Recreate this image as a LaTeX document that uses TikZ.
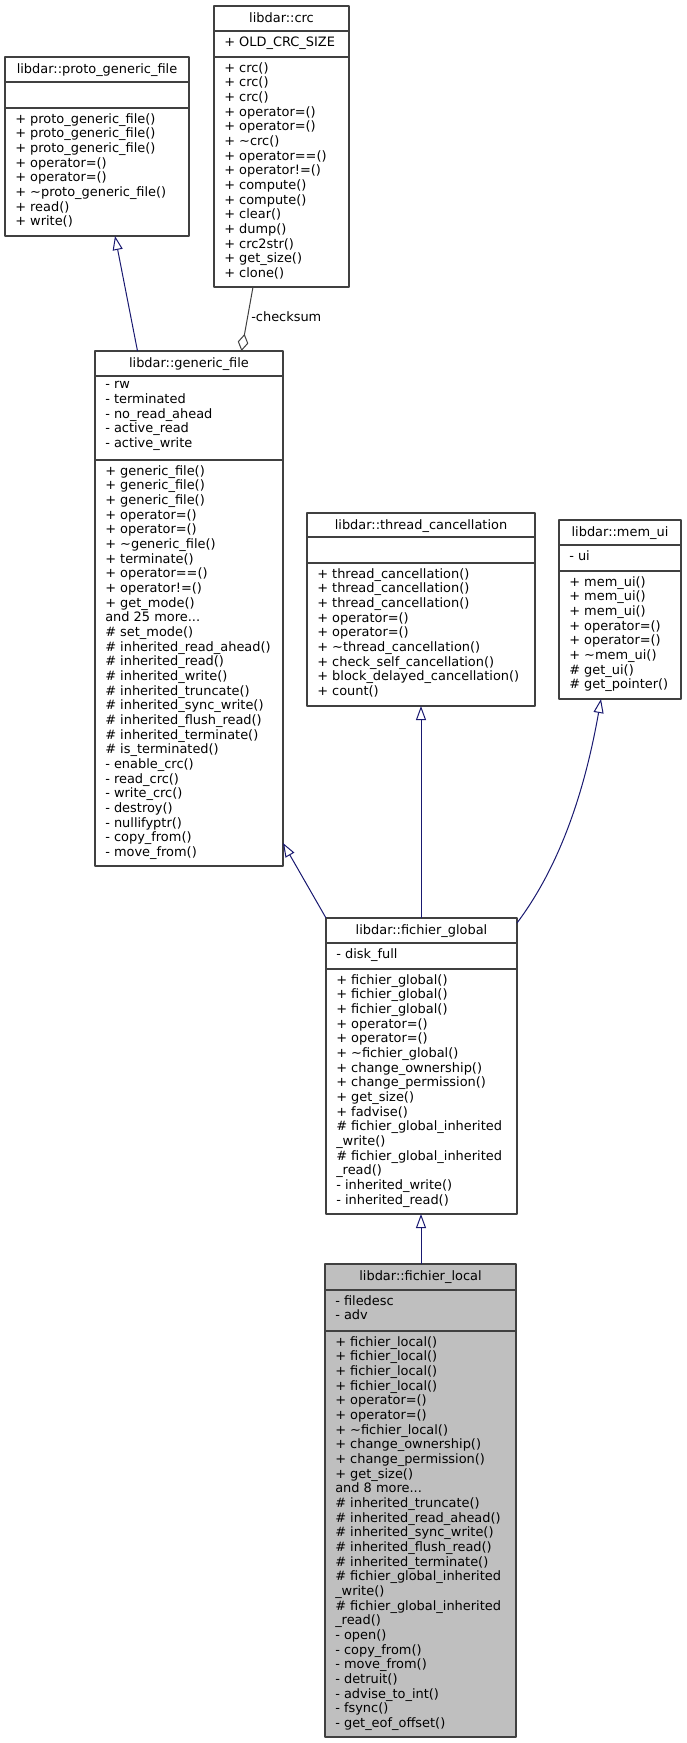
\documentclass[tikz,border=0pt]{standalone}
\usepackage{fontspec}
\setmainfont{DejaVu Sans}
\usetikzlibrary{arrows.meta,calc}
\definecolor{edgeblue}{HTML}{191970}
\definecolor{boxline}{HTML}{404040}
\definecolor{curfill}{HTML}{BFBFBF}
\newcommand{\pxl}{0.75pt}
\tikzset{
  classbox/.style={draw=boxline, line width=0.8pt, anchor=north west, inner sep=0pt, outer sep=0pt},
  sepline/.style={draw=boxline, line width=0.8pt},
  classtitle/.style={anchor=base, inner sep=0pt, font=\fontsize{9.7}{11}\selectfont},
  members/.style={anchor=north west, align=left, inner sep=0pt, font=\fontsize{9.7}{11}\selectfont, execute at begin node=\strut},
  inherit/.style={draw=edgeblue, line width=0.75pt, -{Triangle[open, length=10.5pt, width=7.5pt]}},
  aggreg/.style={draw=boxline, line width=0.75pt, -{Diamond[open, length=13pt, width=8pt]}},
}
\begin{document}
\begin{tikzpicture}[x=\pxl, y=-\pxl, line join=round]
  \useasboundingbox (0,0) rectangle (686,1743);

  % libdar::proto_generic_file
  \node[classbox, minimum width=184*\pxl, minimum height=179*\pxl] (protogf) at (5,57) {};
  \draw[sepline] (5,82) -- (189,82);
  \draw[sepline] (5,108) -- (189,108);
  \node[classtitle] (protogf-t) at (97,73) {libdar::proto\_generic\_file};
  \node[members] (protogf-m) at (15,113.2) {+ proto\_generic\_file()\\+ proto\_generic\_file()\\+ proto\_generic\_file()\\+ operator=()\\+ operator=()\\+ \textasciitilde proto\_generic\_file()\\+ read()\\+ write()};

  % libdar::crc
  \node[classbox, minimum width=135*\pxl, minimum height=281*\pxl] (crc) at (214,6) {};
  \draw[sepline] (214,31) -- (349,31);
  \draw[sepline] (214,57) -- (349,57);
  \node[classtitle] (crc-t) at (281.5,22) {libdar::crc};
  \node[members] (crc-a) at (224,36.2) {+ OLD\_CRC\_SIZE};
  \node[members] (crc-m) at (224,62.2) {+ crc()\\+ crc()\\+ crc()\\+ operator=()\\+ operator=()\\+ \textasciitilde crc()\\+ operator==()\\+ operator!=()\\+ compute()\\+ compute()\\+ clear()\\+ dump()\\+ crc2str()\\+ get\_size()\\+ clone()};

  % libdar::generic_file
  \node[classbox, minimum width=188*\pxl, minimum height=515*\pxl] (gf) at (95,351) {};
  \draw[sepline] (95,376) -- (283,376);
  \draw[sepline] (95,460) -- (283,460);
  \node[classtitle] (gf-t) at (189,367) {libdar::generic\_file};
  \node[members] (gf-a) at (105,381.2) {- rw\\- terminated\\- no\_read\_ahead\\- active\_read\\- active\_write};
  \node[members] (gf-m) at (105,465.2) {+ generic\_file()\\+ generic\_file()\\+ generic\_file()\\+ operator=()\\+ operator=()\\+ \textasciitilde generic\_file()\\+ terminate()\\+ operator==()\\+ operator!=()\\+ get\_mode()\\and 25 more...\\\# set\_mode()\\\# inherited\_read\_ahead()\\\# inherited\_read()\\\# inherited\_write()\\\# inherited\_truncate()\\\# inherited\_sync\_write()\\\# inherited\_flush\_read()\\\# inherited\_terminate()\\\# is\_terminated()\\- enable\_crc()\\- read\_crc()\\- write\_crc()\\- destroy()\\- nullifyptr()\\- copy\_from()\\- move\_from()};

  % libdar::thread_cancellation
  \node[classbox, minimum width=228*\pxl, minimum height=193*\pxl] (tc) at (307,513) {};
  \draw[sepline] (307,537) -- (535,537);
  \draw[sepline] (307,563) -- (535,563);
  \node[classtitle] (tc-t) at (421,529) {libdar::thread\_cancellation};
  \node[members] (tc-m) at (317,568.2) {+ thread\_cancellation()\\+ thread\_cancellation()\\+ thread\_cancellation()\\+ operator=()\\+ operator=()\\+ \textasciitilde thread\_cancellation()\\+ check\_self\_cancellation()\\+ block\_delayed\_cancellation()\\+ count()};

  % libdar::mem_ui
  \node[classbox, minimum width=122*\pxl, minimum height=179*\pxl] (mem) at (559,520) {};
  \draw[sepline] (559,545) -- (681,545);
  \draw[sepline] (559,571) -- (681,571);
  \node[classtitle] (mem-t) at (620,536) {libdar::mem\_ui};
  \node[members] (mem-a) at (569,550.2) {- ui};
  \node[members] (mem-m) at (569,576.2) {+ mem\_ui()\\+ mem\_ui()\\+ mem\_ui()\\+ operator=()\\+ operator=()\\+ \textasciitilde mem\_ui()\\\# get\_ui()\\\# get\_pointer()};

  % libdar::fichier_global
  \node[classbox, minimum width=191*\pxl, minimum height=296*\pxl] (fg) at (326,918) {};
  \draw[sepline] (326,943) -- (517,943);
  \draw[sepline] (326,969) -- (517,969);
  \node[classtitle] (fg-t) at (421.5,934) {libdar::fichier\_global};
  \node[members] (fg-a) at (336,948.2) {- disk\_full};
  \node[members] (fg-m) at (336,974.2) {+ fichier\_global()\\+ fichier\_global()\\+ fichier\_global()\\+ operator=()\\+ operator=()\\+ \textasciitilde fichier\_global()\\+ change\_ownership()\\+ change\_permission()\\+ get\_size()\\+ fadvise()\\\# fichier\_global\_inherited\\\_write()\\\# fichier\_global\_inherited\\\_read()\\- inherited\_write()\\- inherited\_read()};

  % libdar::fichier_local
  \node[classbox, fill=curfill, minimum width=191*\pxl, minimum height=473*\pxl] (fl) at (325,1264) {};
  \draw[sepline] (325,1290) -- (516,1290);
  \draw[sepline] (325,1331) -- (516,1331);
  \node[classtitle] (fl-t) at (420.5,1280) {libdar::fichier\_local};
  \node[members] (fl-a) at (335,1295.2) {- filedesc\\- adv};
  \node[members] (fl-m) at (335,1336.2) {+ fichier\_local()\\+ fichier\_local()\\+ fichier\_local()\\+ fichier\_local()\\+ operator=()\\+ operator=()\\+ \textasciitilde fichier\_local()\\+ change\_ownership()\\+ change\_permission()\\+ get\_size()\\and 8 more...\\\# inherited\_truncate()\\\# inherited\_read\_ahead()\\\# inherited\_sync\_write()\\\# inherited\_flush\_read()\\\# inherited\_terminate()\\\# fichier\_global\_inherited\\\_write()\\\# fichier\_global\_inherited\\\_read()\\- open()\\- copy\_from()\\- move\_from()\\- detruit()\\- advise\_to\_int()\\- fsync()\\- get\_eof\_offset()};

  % Inheritance
  \draw[inherit] ($(gf.north west)+(42.5,0)$) -- ($(protogf.south west)+(110,0)$);
  \draw[inherit] (fg.north west) -- ($(gf.south east)+(0,-23)$);
  \draw[inherit] ($(fg.north west)+(95,0)$) -- ($(tc.south west)+(114,0)$);
  \draw[inherit] ($(fg.north east)+(0,5)$) .. controls +(48,-64) and +(-14,79) .. ($(mem.south west)+(42,0)$);
  \draw[inherit] ($(fl.north west)+(96,0)$) -- ($(fg.south west)+(95,0)$);

  % Aggregation
  \draw[aggreg] ($(crc.south west)+(39,0)$) -- ($(gf.north west)+(146.5,0)$);
  \node[classtitle, anchor=base west] (chk) at (251,321) {-checksum};
\end{tikzpicture}
\end{document}
